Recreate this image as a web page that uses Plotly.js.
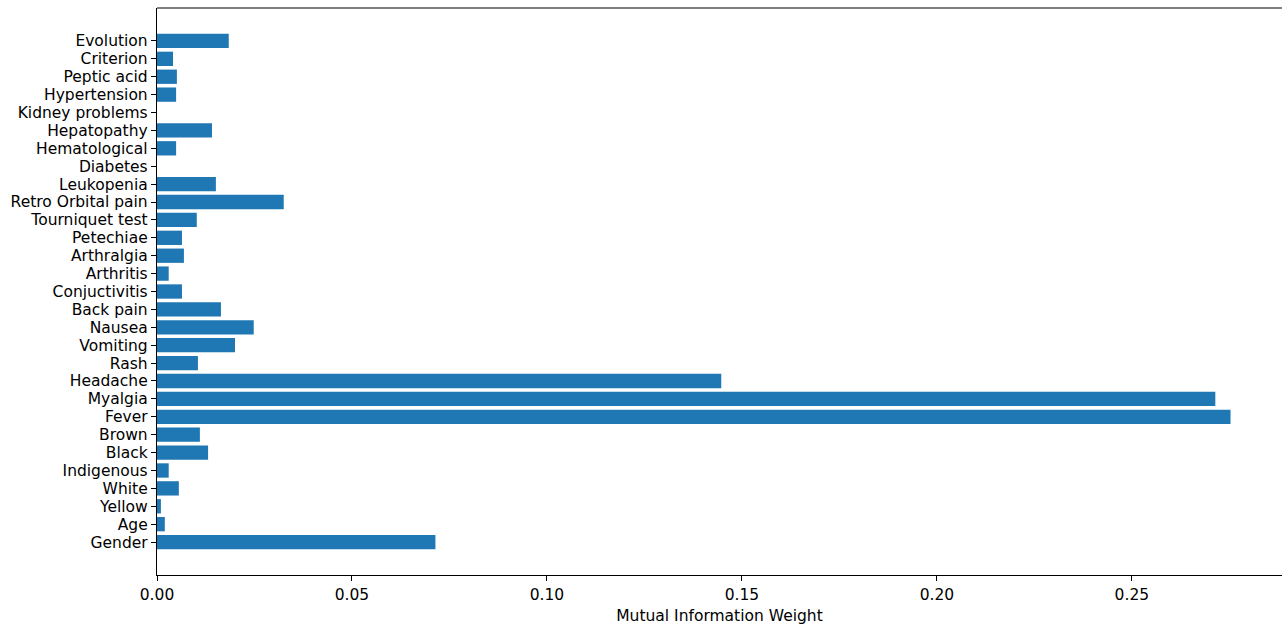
<!DOCTYPE html>
<html>
<head>
<meta charset="utf-8">
<script src="https://cdn.plot.ly/plotly-3.0.1.min.js"></script>
<style>html,body{margin:0;padding:0;background:#fff;}#chart{width:1282px;height:625px;}</style>
</head>
<body>
<div id="chart"></div>
<script>
const features = ["Gender","Age","Yellow","White","Indigenous","Black","Brown","Fever","Myalgia","Headache","Rash","Vomiting","Nausea","Back pain","Conjuctivitis","Arthritis","Arthralgia","Petechiae","Tourniquet test","Retro Orbital pain","Leukopenia","Diabetes","Hematological","Hepatopathy","Kidney problems","Hypertension","Peptic acid","Criterion","Evolution"];
const weights = [0.0714,0.0020,0.0010,0.0056,0.0030,0.0131,0.0110,0.2753,0.2714,0.1447,0.0105,0.0200,0.0248,0.0164,0.0064,0.0030,0.0069,0.0064,0.0102,0.0325,0.0151,0.0,0.0049,0.0141,0.0,0.0049,0.0051,0.0041,0.0184];
const xTicks = [0,0.05,0.10,0.15,0.20,0.25];
const xTickText = ["0.00","0.05","0.10","0.15","0.20","0.25"];

const idx = features.map((_, i) => i);
const font = {family: "DejaVu Sans, sans-serif", size: 15.5, color: "#000"};

Plotly.newPlot("chart", [{
  type: "bar",
  orientation: "h",
  y: idx,
  x: weights,
  width: 0.8,
  marker: {color: "#1f77b4", line: {width: 0}},
  hoverinfo: "x+text",
  text: features,
  textposition: "none"
}], {
  width: 1282, height: 625,
  margin: {l: 157, r: 0, t: 7.5, b: 49.5},
  paper_bgcolor: "#fff", plot_bgcolor: "#fff",
  font: font,
  showlegend: false,
  xaxis: {
    range: [0, 0.2885],
    tickvals: xTicks, ticktext: xTickText,
    ticks: "outside", ticklen: 5, tickwidth: 1, tickcolor: "#000",
    showline: true, linecolor: "#000", linewidth: 1.2,
    showgrid: false, zeroline: false,
    tickfont: font,
    title: {text: "Mutual Information Weight", font: font, standoff: 8}
  },
  yaxis: {
    range: [-1.84, 29.84],
    tickvals: idx, ticktext: features,
    ticks: "outside", ticklen: 5, tickwidth: 1, tickcolor: "#000",
    showline: true, linecolor: "#000", linewidth: 1.2,
    showgrid: false, zeroline: false,
    tickfont: font
  },
  shapes: [{type: "line", xref: "paper", yref: "paper", x0: 0, x1: 1, y0: 1, y1: 1, line: {color: "#000", width: 1.2}}]
}, {displayModeBar: false, staticPlot: true});
</script>
</body>
</html>
